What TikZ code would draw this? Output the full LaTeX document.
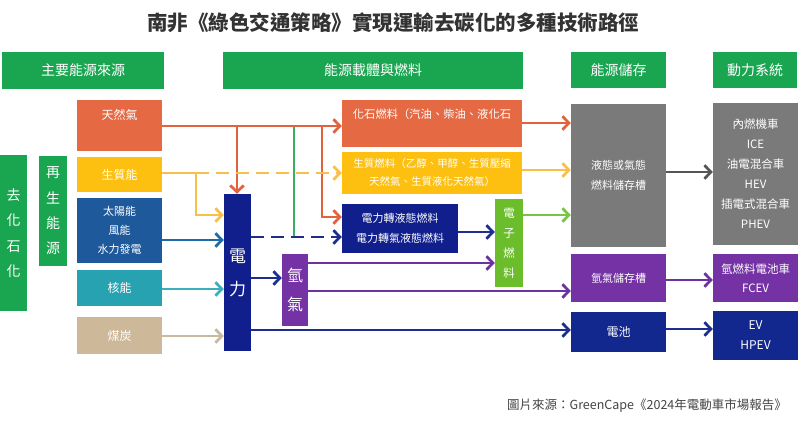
\documentclass[tikz,border=0pt]{standalone}
\usepackage{fontspec}
\setmainfont{Noto Sans CJK TC}
\usetikzlibrary{arrows.meta}
\definecolor{hgreen}{HTML}{1AA650}
\definecolor{cred}{HTML}{E56943}
\definecolor{cyel}{HTML}{FDC010}
\definecolor{cblue}{HTML}{1E5A9B}
\definecolor{cteal}{HTML}{27A2B0}
\definecolor{ctan}{HTML}{CDB89A}
\definecolor{cnavy}{HTML}{101F8C}
\definecolor{cnavy2}{HTML}{13288F}
\definecolor{cpurp}{HTML}{7432A4}
\definecolor{cegreen}{HTML}{6CBD2C}
\definecolor{cgray}{HTML}{7A7A7A}
\definecolor{ared}{HTML}{E2623E}
\definecolor{ayel}{HTML}{F8C04A}
\definecolor{ablue}{HTML}{1F6BA8}
\definecolor{ateal}{HTML}{3BB0BD}
\definecolor{atan}{HTML}{C9B99F}
\definecolor{anavy}{HTML}{1C2E8E}
\definecolor{apurp}{HTML}{6C33A0}
\definecolor{agreen}{HTML}{78C445}
\definecolor{agray}{HTML}{555555}
\definecolor{cgline}{HTML}{3AAE63}
\definecolor{titlegray}{HTML}{333333}
\definecolor{capgray}{HTML}{444444}
\newcommand\fsz[2]{\fontsize{#1}{#2}\selectfont}
\newcommand\mybox[8][]{%
  \node[fill=#7, text=white, inner sep=0pt, align=center,
        minimum width={#5pt-#3pt}, minimum height={#6pt-#4pt}, #1]
        (#2) at ({(#3+#5)/2},{(#4+#6)/2}) {#8};}
\begin{document}
\begin{tikzpicture}[x=1pt,y=-1pt,
  arr/.style={draw=#1, line width=2.7pt, -{Straight Barb[length=6.5pt,width=13.5pt]}},
  dsh/.style={dash pattern=on 13pt off 7pt},
  hdr/.style={font=\fsz{14}{16}}]
\useasboundingbox (0,0) rectangle (800,427);
\fill[white] (0,0) rectangle (800,427);

\node[font=\bfseries\fsz{20.5}{24}, text=titlegray] (title) at (393,23) {南非《綠色交通策略》實現運輸去碳化的多種技術路徑};

% headers
\mybox[hdr]{h1}{2}{52}{164}{89}{hgreen}{主要能源來源}
\mybox[hdr]{h2}{223}{52}{523}{89}{hgreen}{能源載體與燃料}
\mybox[hdr]{h3}{571}{52}{666}{88}{hgreen}{能源儲存}
\mybox[hdr]{h4}{713}{52}{797}{88}{hgreen}{動力系統}

% side labels
\mybox[font=\fsz{14}{25.5}]{qh}{0}{155}{27}{311}{hgreen}{去\\化\\石\\化}
\mybox[font=\fsz{14}{25.3}]{zs}{39}{156}{67}{266}{hgreen}{再\\生\\能\\源}

% sources
\mybox{tr}{77}{100}{162}{151}{cred}{}
\node[font=\fsz{12}{14}, text=white] (trt) at (119.5,115) {天然氣};
\mybox[font=\fsz{12}{14}]{szn}{77}{157}{162}{192}{cyel}{生質能}
\mybox[font=\fsz{11}{19}]{ty}{77}{198}{162}{263}{cblue}{太陽能\\風能\\水力發電}
\mybox[font=\fsz{12}{14}]{hn}{77}{270}{162}{306}{cteal}{核能}
\mybox[font=\fsz{12}{14}]{mt}{77}{317}{162}{354}{ctan}{煤炭}

% carriers
\mybox[font=\fsz{17}{33}]{dl}{224}{194}{251}{351}{cnavy}{電\\力}
\mybox[font=\fsz{16}{29}]{qq}{282}{254}{308}{326}{cpurp}{氫\\氣}
\mybox{hs}{342}{100}{522}{147}{cred}{}
\node[font=\fsz{11.3}{14}, text=white] (hst) at (432,114) {化石燃料（汽油、柴油、液化石};
\mybox[font=\fsz{10.5}{18}]{szr}{342}{152}{522}{194}{cyel}{生質燃料（乙醇、甲醇、生質壓縮\\天然氣、生質液化天然氣）}
\mybox[font=\fsz{11}{20}]{dlz}{342}{204}{458}{253}{cnavy}{電力轉液態燃料\\電力轉氣液態燃料}
\mybox[font=\fsz{11.5}{20}]{dz}{495}{199}{523}{287}{cegreen}{電\\子\\燃\\料}

% storage
\mybox[font=\fsz{11}{20}]{gs}{571}{104}{666}{247}{cgray}{液態或氣態\\燃料儲存槽}
\mybox[font=\fsz{11}{14}]{qs}{571}{254}{666}{302}{cpurp}{氫氣儲存槽}
\mybox[font=\fsz{12}{14}]{dc}{571}{312}{666}{352}{cnavy2}{電池}

% powertrain
\mybox[font=\fsz{11.5}{20}]{ice}{713}{103}{798}{245}{cgray}{內燃機車\\ICE\\油電混合車\\HEV\\插電式混合車\\PHEV}
\mybox[font=\fsz{11.5}{19}]{fc}{713}{254}{798}{302}{cpurp}{氫燃料電池車\\FCEV}
\mybox[font=\fsz{12}{20}]{ev}{713}{311}{798}{360}{cnavy2}{EV\\HPEV}

% helper coordinates
\coordinate (r1) at (237,126);
\coordinate (r2) at (322,126);
\coordinate (g1) at (294,126);
\coordinate (g2) at (294,237);
\coordinate (y0) at (196,173);
\coordinate (y1) at (196,215);

% connectors
\draw[draw=cgline, line width=1.2pt] (g1) -- (g2);
\draw[arr=ared] (tr.east |- r1) -- (hs.west |- r1);
\draw[arr=ared] (r1) -- (r1 |- dl.north);
\draw[arr=ared] (r2) |- (dlz.west |- 0,217);
\draw[arr=ayel] (szn.east |- y0) -| (y1) -- (y1 -| dl.west);
\draw[arr=ayel, dsh] (y0) -- (szr.west |- y0);
\draw[arr=ablue] (ty.east |- 0,240) -- (dl.west |- 0,240);
\draw[arr=ateal] (hn.east |- 0,289) -- (dl.west |- 0,289);
\draw[arr=atan] (mt.east |- 0,336) -- (dl.west |- 0,336);
\draw[arr=anavy, dsh] (dl.east |- g2) -- (dlz.west |- g2);
\draw[arr=anavy] (dl.east |- 0,278) -- (qq.west |- 0,278);
\draw[arr=anavy] (dl.east |- 0,330) -- (dc.west |- 0,330);
\draw[arr=apurp] (qq.east |- 0,263) -- (dz.west |- 0,263);
\draw[arr=apurp] (qq.east |- 0,291) -- (qs.west |- 0,291);
\draw[arr=anavy] (dlz.east |- 0,232) -- (dz.west |- 0,232);
\draw[arr=ared] (hs.east |- 0,123) -- (gs.west |- 0,123);
\draw[arr=ayel] (szr.east |- 0,170) -- (gs.west |- 0,170);
\draw[arr=agreen] (dz.east |- 0,215) -- (gs.west |- 0,215);
\draw[arr=agray] (gs.east |- 0,172) -- (ice.west |- 0,172);
\draw[arr=apurp] (qs.east |- 0,280) -- (fc.west |- 0,280);
\draw[arr=anavy] (dc.east |- 0,329) -- (ev.west |- 0,329);

\node[font=\fsz{12.5}{15}, text=capgray] (cap) at (647,406) {圖片來源：GreenCape《2024年電動車市場報告》};
\end{tikzpicture}
\end{document}
